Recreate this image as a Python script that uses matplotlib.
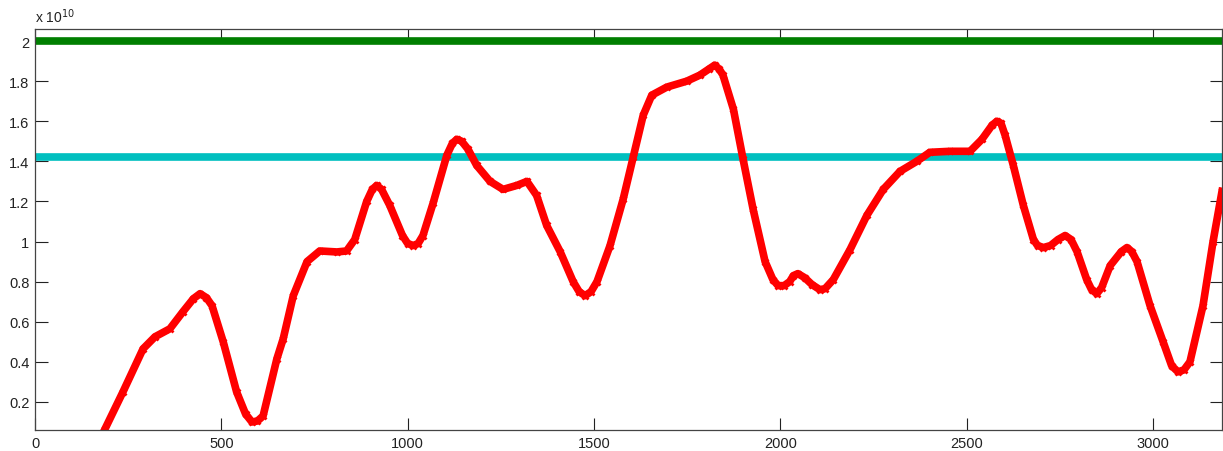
import numpy as np
import matplotlib.pyplot as plt
from matplotlib.ticker import FuncFormatter

plt.rcParams['font.family'] = ['Liberation Sans', 'DejaVu Sans']

# red curve, y in units of 1e10
red_x = [188, 236, 290, 322, 362, 397, 425, 443, 460, 475, 505, 541, 565, 582,
         597, 612, 649, 666, 693, 730, 764, 810, 836, 858, 890, 905, 917, 930,
         952, 986, 1000, 1015, 1028, 1041, 1068, 1105, 1120, 1132, 1145, 1162,
         1185, 1221, 1256, 1293, 1320, 1346, 1373, 1409, 1444, 1460, 1476,
         1492, 1508, 1543, 1578, 1605, 1632, 1655, 1695, 1749, 1784, 1808,
         1824, 1836, 1846, 1874, 1900, 1927, 1959, 1980, 1994, 2010, 2025,
         2035, 2047, 2065, 2085, 2106, 2120, 2142, 2187, 2232, 2276, 2321,
         2366, 2401, 2455, 2509, 2541, 2568, 2581, 2592, 2603, 2625, 2652,
         2679, 2690, 2706, 2725, 2745, 2764, 2780, 2796, 2822, 2835, 2849,
         2862, 2885, 2915, 2930, 2943, 2957, 2992, 3027, 3050, 3067, 3083,
         3099, 3134, 3161, 3185]
red_y = [0.066, 0.25, 0.465, 0.525, 0.565, 0.65, 0.715, 0.74, 0.72, 0.68, 0.50,
         0.25, 0.14, 0.10, 0.105, 0.13, 0.415, 0.515, 0.73, 0.90, 0.953, 0.948,
         0.953, 1.01, 1.20, 1.26, 1.28, 1.26, 1.18, 1.03, 0.99, 0.98, 0.99,
         1.03, 1.19, 1.43, 1.49, 1.51, 1.50, 1.46, 1.38, 1.30, 1.26, 1.28,
         1.30, 1.23, 1.08, 0.95, 0.80, 0.75, 0.73, 0.75, 0.80, 0.98, 1.21,
         1.42, 1.63, 1.73, 1.77, 1.80, 1.83, 1.86, 1.88, 1.86, 1.83, 1.66,
         1.41, 1.16, 0.90, 0.81, 0.78, 0.78, 0.80, 0.83, 0.84, 0.82, 0.785,
         0.76, 0.765, 0.81, 0.96, 1.13, 1.26, 1.35, 1.40, 1.445, 1.45, 1.45,
         1.51, 1.58, 1.60, 1.59, 1.53, 1.38, 1.18, 1.01, 0.98, 0.97, 0.98,
         1.01, 1.03, 1.01, 0.95, 0.81, 0.76, 0.74, 0.77, 0.88, 0.95, 0.97,
         0.95, 0.90, 0.68, 0.50, 0.38, 0.35, 0.36, 0.40, 0.68, 1.0, 1.25]

green_level = 2.0
cyan_level = 1.422
x_span = [0, 3185]
scale = 1e10

fig = plt.figure(figsize=(12.23, 4.52), dpi=100)
ax = fig.add_axes([35 / 1223, 1 - 431 / 452, 1187 / 1223, 401 / 452])

ax.plot(x_span, [green_level * scale] * 2, color='#007F00', lw=5.5,
        solid_capstyle='butt')
ax.plot(x_span, [cyan_level * scale] * 2, color='#00BFBF', lw=5.5,
        solid_capstyle='butt')
ax.plot(red_x, np.array(red_y) * scale, color='#FF0000', lw=5.5,
        marker='x', ms=5, mew=2, solid_joinstyle='round')

ax.set_xlim(0, 3185)
ax.set_ylim(0.06 * scale, 2.06 * scale)
ax.set_xticks(np.arange(0, 3001, 500))
ax.set_yticks(np.arange(0.2, 2.01, 0.2) * scale)
ax.yaxis.set_major_formatter(FuncFormatter(lambda v, p: '%g' % round(v / scale, 2)))

ax.tick_params(direction='in', length=9, width=0.8, top=True, right=True,
               labelsize=10.5, colors='#222222', pad=4)
for s in ax.spines.values():
    s.set_color('#444444')
    s.set_linewidth(0.9)

fig.text(35 / 1223, 1 - 17 / 452, 'x 10$^{10}$', fontsize=10, color='#222222',
         ha='left', va='center')

fig.savefig('out.png', dpi=100)
